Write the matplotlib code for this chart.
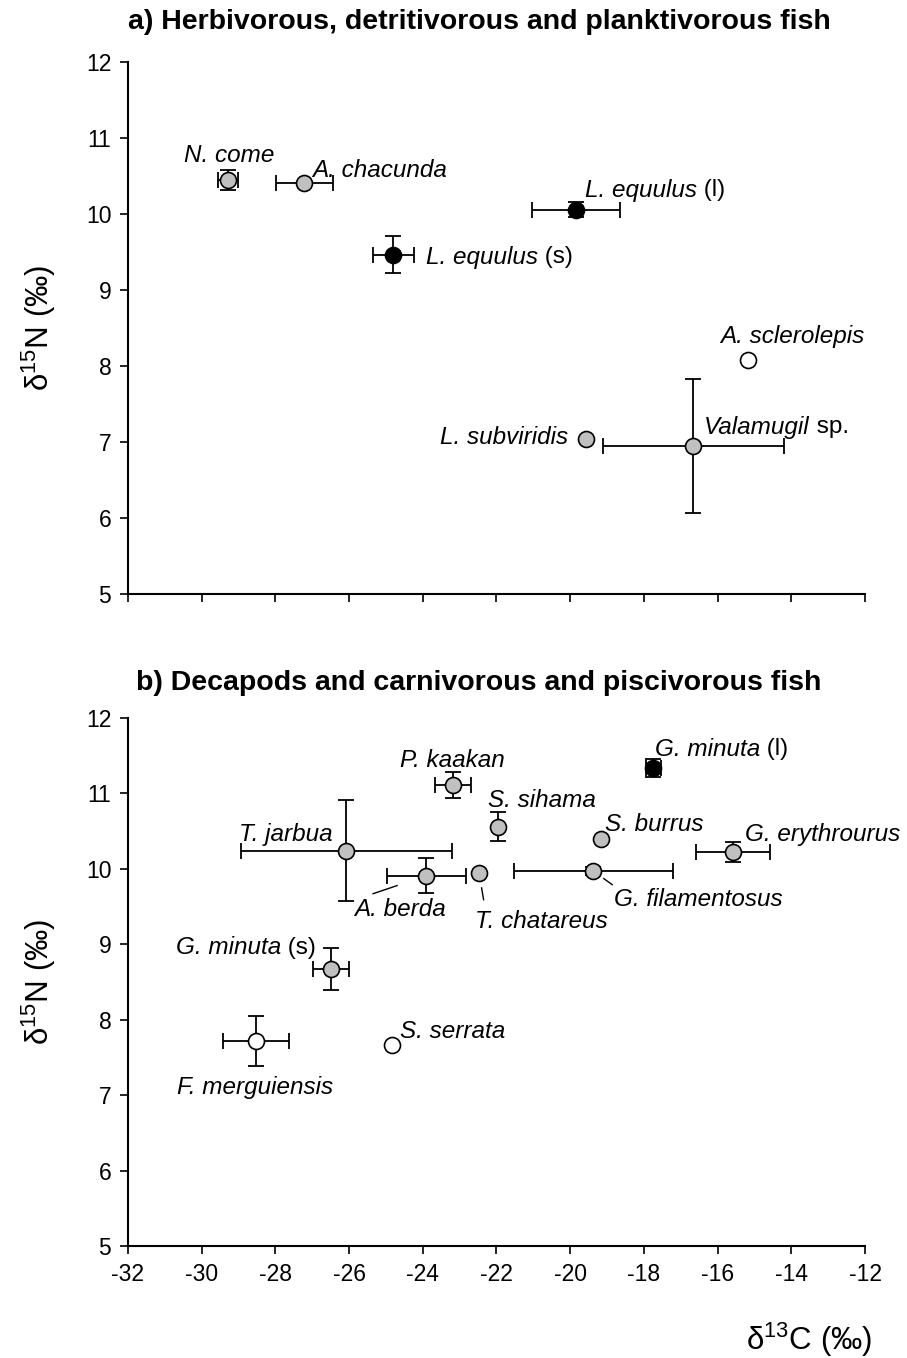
import matplotlib
matplotlib.use("Agg")
import matplotlib.pyplot as plt

plt.rcParams['font.family'] = ['Liberation Sans', 'DejaVu Sans']
plt.rcParams['mathtext.fontset'] = 'custom'
plt.rcParams['mathtext.rm'] = 'Liberation Sans'
plt.rcParams['mathtext.it'] = 'Liberation Sans:italic'

# ---------------------------------------------------------------
# a) herbivorous, detritivorous and planktivorous fish
# ---------------------------------------------------------------
# species name (italic part, regular suffix)
a_names = [('N. come', ''), ('A. chacunda', ''), ('L. equulus', ' (l)'),
           ('L. equulus', ' (s)'), ('A. sclerolepis', ''), ('L. subviridis', ''),
           ('Valamugil', ' sp.')]
a_d13c = [-29.29, -27.22, -19.85, -24.80, -15.17, -19.57, -16.66]
a_d15n = [10.45, 10.41, 10.06, 9.47, 8.08, 7.04, 6.95]
a_xerr = [0.28, 0.77, 1.19, 0.56, 0.0, 0.0, 2.46]
a_yerr = [0.13, 0.0, 0.10, 0.24, 0.0, 0.0, 0.88]
a_fill = ['#c0c0c0', '#c0c0c0', 'black', 'black', 'white', '#c0c0c0', '#c0c0c0']
# label anchor (data units) and horizontal alignment
a_lx = [-29.26, -26.99, -19.60, -23.90, -15.93, -20.05, -16.37]
a_ly = [10.81, 10.61, 10.35, 9.47, 8.43, 7.09, 7.23]
a_ha = ['center', 'left', 'left', 'left', 'left', 'right', 'left']

# ---------------------------------------------------------------
# b) decapods and carnivorous and piscivorous fish
# ---------------------------------------------------------------
b_names = [('P. kaakan', ''), ('S. sihama', ''), ('T. jarbua', ''), ('A. berda', ''),
           ('T. chatareus', ''), ('G. filamentosus', ''), ('S. burrus', ''),
           ('G. erythrourus', ''), ('G. minuta', ' (l)'), ('G. minuta', ' (s)'),
           ('F. merguiensis', ''), ('S. serrata', '')]
b_d13c = [-23.19, -21.95, -26.08, -23.90, -22.47, -19.37, -19.17, -15.59, -17.74, -26.50, -28.53, -24.83]
b_d15n = [11.11, 10.56, 10.24, 9.91, 9.94, 9.97, 10.40, 10.22, 11.34, 8.67, 7.72, 7.66]
b_xerr = [0.49, 0.0, 2.86, 1.07, 0.0, 2.15, 0.0, 1.00, 0.20, 0.49, 0.90, 0.0]
b_yerr = [0.17, 0.19, 0.67, 0.23, 0.0, 0.05, 0.0, 0.13, 0.12, 0.28, 0.33, 0.0]
b_fill = ['#c0c0c0'] * 8 + ['black', '#c0c0c0', 'white', 'white']
b_lx = [-23.19, -22.24, -28.98, -25.87, -22.58, -18.81, -19.06, -15.26, -17.70, -30.70, -30.68, -24.62]
b_ly = [11.47, 10.94, 10.49, 9.50, 9.34, 9.62, 10.62, 10.49, 11.62, 8.99, 7.13, 7.88]
b_ha = ['center'] + ['left'] * 11
# short leader lines: index -> start point near the label
b_leader = {3: (-25.35, 9.67), 4: (-22.35, 9.59), 5: (-18.86, 9.79)}

xticks = list(range(-32, -11, 2))
yticks = list(range(5, 13))

fig = plt.figure(figsize=(9.07, 13.58), dpi=100)
ax_a = fig.add_axes([0.1411, 0.5626, 0.8126, 0.3914])
ax_b = fig.add_axes([0.1411, 0.0825, 0.8126, 0.3888])
renderer = fig.canvas.get_renderer()

LABEL_SIZE = 17.5


def species_label(ax, x, y, name, ha):
    ital, rest = name
    t = ax.text(x, y, ital, ha=ha, va='center_baseline', fontsize=LABEL_SIZE,
                style='italic', zorder=4)
    if rest:
        # put the non-italic suffix right after the italic name, same baseline
        w = t.get_window_extent(renderer).width * 72 / fig.dpi
        ax.annotate(rest, xy=(x, y), xycoords='data', xytext=(w, 0),
                    textcoords='offset points', ha='left', va='center_baseline',
                    fontsize=LABEL_SIZE, zorder=4)


def draw_panel(ax, x, y, xe, ye, fill, names, lx, ly, ha, leaders=None):
    for i in range(len(x)):
        ax.errorbar(x[i], y[i], xerr=xe[i] or None, yerr=ye[i] or None, fmt='none',
                    ecolor='black', elinewidth=1.3, capsize=5.5, capthick=1.3, zorder=2)
        ax.plot(x[i], y[i], 'o', ms=11.5, mfc=fill[i], mec='black', mew=1.2, zorder=3)
        species_label(ax, lx[i], ly[i], names[i], ha[i])
    if leaders:
        for i, (x0, y0) in leaders.items():
            # stop the line short of the marker edge
            dx, dy = x[i] - x0, y[i] - y0
            ax.plot([x0, x0 + dx * 0.45], [y0, y0 + dy * 0.45], color='black', lw=1.0)
    ax.set_xlim(-32, -12)
    ax.set_ylim(5, 12)
    ax.set_xticks(xticks)
    ax.set_yticks(yticks)
    for s in ['top', 'right']:
        ax.spines[s].set_visible(False)
    for s in ['left', 'bottom']:
        ax.spines[s].set_linewidth(1.5)
    ax.tick_params(direction='out', length=6, width=1.2, labelsize=16.5, pad=6)
    ax.set_ylabel(r'δ$^{15}$N (‰)', fontsize=22.5, labelpad=20)


draw_panel(ax_a, a_d13c, a_d15n, a_xerr, a_yerr, a_fill, a_names, a_lx, a_ly, a_ha)
draw_panel(ax_b, b_d13c, b_d15n, b_xerr, b_yerr, b_fill, b_names, b_lx, b_ly, b_ha, b_leader)

ax_a.tick_params(axis='x', labelbottom=False)
ax_b.set_xticklabels([str(t) for t in xticks])

fig.text(479 / 907, 1 - 22 / 1358, 'a) Herbivorous, detritivorous and planktivorous fish',
         ha='center', va='center', fontsize=20.5, fontweight='bold')
fig.text(479 / 907, 1 - 683 / 1358, 'b) Decapods and carnivorous and piscivorous fish',
         ha='center', va='center', fontsize=20.5, fontweight='bold')
fig.text(872 / 907, 1 - 1340 / 1358, r'δ$^{13}$C (‰)', ha='right', va='center', fontsize=22.5)

fig.savefig('out.png', dpi=100)
